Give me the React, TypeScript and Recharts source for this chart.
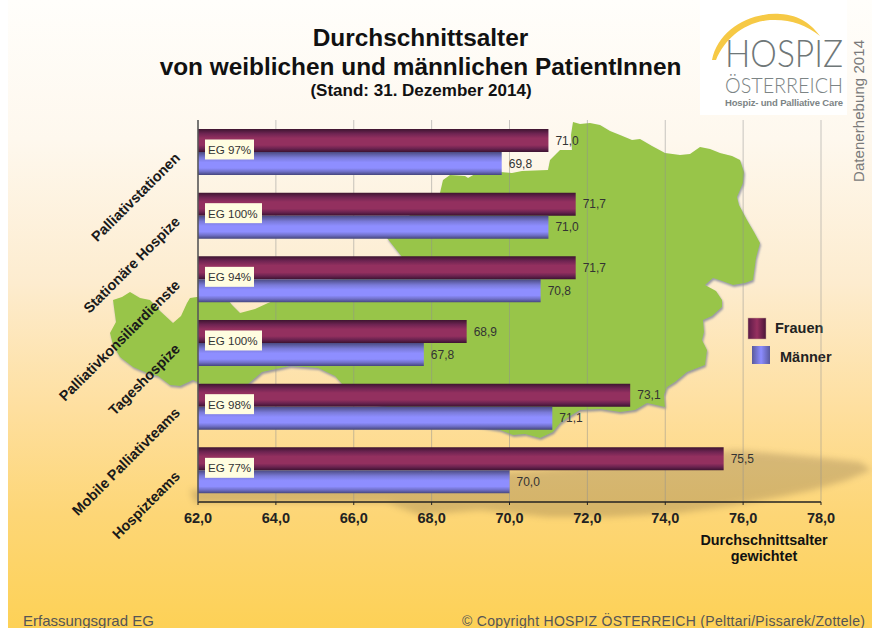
import { Bar, BarChart, CartesianGrid, LabelList, XAxis, YAxis } from 'recharts'

const categories = [
  'Palliativstationen',
  'Stationäre Hospize',
  'Palliativkonsiliardienste',
  'Tageshospize',
  'Mobile Palliativteams',
  'Hospizteams',
]
const frauen = [71.0, 71.7, 71.7, 68.9, 73.1, 75.5]
const maenner = [69.8, 71.0, 70.8, 67.8, 71.1, 70.0]
const erfassung = ['EG 97%', 'EG 100%', 'EG 94%', 'EG 100%', 'EG 98%', 'EG 77%']
const xTicks = [62, 64, 66, 68, 70, 72, 74, 76, 78]
const bandEdges = [0, 1, 2, 3, 4, 5, 6]

const chartData = categories.map((name, i) => ({
  name,
  frauen: frauen[i],
  maenner: maenner[i],
  eg: erfassung[i],
}))

const FONT = '"Liberation Sans", Arial, sans-serif'
const MAP_PATH =
  'M573,122 L580,124 L590,123 L600,125 L610,131 L620,135 L632,140 L640,139 L652,146 L665,153 L680,155 L690,154 L700,147 L710,149 L720,153 L732,156 L740,160 L744,172 L743,183 L737,197 L739,205 L747,220 L754,232 L760,243 L756,258 L753,280 L745,283 L733,285 L722,281 L713,278 L705,285 L716,291 L722,300 L722,307 L712,316 L703,320 L704,332 L702,340 L707,350 L705,365 L687,372 L675,382 L667,387 L664,395 L665,407 L647,403 L635,410 L620,412 L600,409 L580,410 L570,416 L560,423 L553,432 L540,438 L525,434 L513,435 L500,430 L440,420 L380,405 L350,392 L343,385 L335,376 L318,368 L290,366 L262,372 L247,385 L225,388 L205,386 L193,380 L180,386 L170,385 L158,376 L147,373 L133,367 L120,357 L113,345 L110,333 L116,322 L113,300 L122,297 L130,292 L140,298 L150,300 L160,311 L173,323 L181,316 L187,303 L190,298 L197,297 L228,300 L232,305 L240,313 L255,309 L268,303 L300,290 L402,257 L387,238 L410,215 L440,193 L443,180 L450,175 L465,176 L468,178 L475,174 L500,172 L512,173 L522,171 L548,170 L550,160 L560,150 L572,150 L571,135 Z'

function pct(value: number) {
  return value.toFixed(1).replace('.', ',')
}

function CategoryTick({ x, y, payload }: { x?: number; y?: number; payload?: { value: string } }) {
  return (
    <text
      x={0}
      y={0}
      transform={`translate(${(x ?? 0) - 9},${(y ?? 0) + 7}) rotate(-45)`}
      textAnchor="end"
      fontFamily={FONT}
      fontSize={14.4}
      fontWeight="bold"
      fill="#1a1a1a"
    >
      {payload?.value}
    </text>
  )
}

function EdgeTick({ x, y }: { x?: number; y?: number }) {
  return <line x1={x} x2={Number(x) - 5} y1={y} y2={y} stroke="#222" strokeWidth={1.5} />
}

function EgLabel({ x, y, index }: { x?: number; y?: number; index?: number }) {
  const label = erfassung[index ?? 0]
  const width = label.length > 6 ? 57 : 49
  return (
    <g>
      <rect x={Number(x) + 7} y={Number(y) - 12.5} width={width} height={20} fill="#fffde0" />
      <text x={Number(x) + 10} y={Number(y) + 2} fontFamily={FONT} fontSize={11.6} fill="#333">
        {label}
      </text>
    </g>
  )
}

function Backdrop() {
  return (
    <svg width={872} height={628} style={{ position: 'absolute', left: 0, top: 0 }}>
      <defs>
        <filter id="mapShadow" x="-5%" y="-5%" width="110%" height="110%">
          <feDropShadow dx={1} dy={2} stdDeviation={0.8} floodColor="#7d8298" floodOpacity={0.8} />
        </filter>
        <filter id="groundBlur" x="-5%" y="-20%" width="110%" height="140%">
          <feGaussianBlur stdDeviation={3} />
        </filter>
        <linearGradient id="swatchF" x1="0" y1="0" x2="1" y2="0">
          <stop offset="0%" stopColor="#5a1a48" />
          <stop offset="50%" stopColor="#96305f" />
          <stop offset="100%" stopColor="#4a1538" />
        </linearGradient>
        <linearGradient id="swatchM" x1="0" y1="0" x2="1" y2="0">
          <stop offset="0%" stopColor="#5a5a9c" />
          <stop offset="50%" stopColor="#8c8cff" />
          <stop offset="100%" stopColor="#5a5a9c" />
        </linearGradient>
      </defs>

      <path
        d="M190,490 L400,480 L600,465 L735,450 L813,457 L860,462 L871,470 L847,480 L813,490 L780,497 L730,506 L680,513 L610,517 L547,517 L480,510 L420,515 L387,503 L300,503 L195,503 Z"
        fill="#6e5a3c"
        opacity={0.27}
        filter="url(#groundBlur)"
      />
      <path d={MAP_PATH} fill="#98c548" filter="url(#mapShadow)" />

      <rect x={700} y={0} width={147} height={115} fill="#fff" />
      <path
        d="M712,60 C718,30 750,12 780,14 C800,15 812,25 820,36 C805,24 790,19 770,20 C745,22 725,38 716,60 Z"
        fill="#f6c945"
      />
      <text
        x={725}
        y={67}
        fontFamily="Lato, sans-serif"
        fontWeight={300}
        fontSize={37}
        fill="#6f7778"
        textLength={118}
        lengthAdjust="spacingAndGlyphs"
      >
        HOSPIZ
      </text>
      <text
        x={725}
        y={93}
        fontFamily="Lato, sans-serif"
        fontWeight={300}
        fontSize={22}
        fill="#7c8485"
        textLength={118}
        lengthAdjust="spacingAndGlyphs"
      >
        ÖSTERREICH
      </text>
      <text x={725} y={106} fontFamily={FONT} fontWeight="bold" fontSize={9.5} fill="#7c8485" textLength={118}>
        Hospiz- und Palliative Care
      </text>
      <text
        transform="translate(864,182) rotate(-90)"
        fontFamily={FONT}
        fontSize={15}
        fill="#7a7a7a"
        textLength={142}
      >
        Datenerhebung 2014
      </text>

      <g fontFamily={FONT} fontWeight="bold" fill="#111" textAnchor="middle">
        <text x={420.5} y={46} fontSize={24.4}>
          Durchschnittsalter
        </text>
        <text x={420.5} y={75} fontSize={24.4}>
          von weiblichen und männlichen PatientInnen
        </text>
        <text x={421} y={96} fontSize={17}>
          (Stand: 31. Dezember 2014)
        </text>
        <text x={764} y={545} fontSize={14.4}>
          Durchschnittsalter
        </text>
        <text x={764} y={561} fontSize={14.4}>
          gewichtet
        </text>
      </g>

      <rect x={748} y={318} width={18} height={21} fill="url(#swatchF)" stroke="#c9a88c" strokeWidth={0.5} />
      <rect x={752} y={346} width={18} height={18} fill="url(#swatchM)" />
      <g fontFamily={FONT} fontWeight="bold" fontSize={14.5} fill="#222">
        <text x={775} y={333}>
          Frauen
        </text>
        <text x={780} y={362}>
          Männer
        </text>
      </g>

      <g fontFamily={FONT} fontSize={15} fill="#555">
        <text x={23} y={626}>
          Erfassungsgrad EG
        </text>
        <text x={462} y={626} fontSize={14} textLength={403}>
          © Copyright HOSPIZ ÖSTERREICH (Pelttari/Pissarek/Zottele)
        </text>
      </g>
    </svg>
  )
}

export default function App() {
  return (
    <div
      style={{
        position: 'absolute',
        left: 0,
        top: 0,
        width: 872,
        height: 628,
        overflow: 'hidden',
        background: '#fff',
      }}
    >
      <div
        style={{
          position: 'absolute',
          left: 8,
          top: 0,
          right: 0,
          bottom: 0,
          background:
            'linear-gradient(180deg, #fffefb 0%, #fef8ee 22%, #fdeccf 45%, #fedf9f 65%, #fdd676 82%, #fdd156 100%)',
        }}
      />
      <Backdrop />
      <div style={{ position: 'absolute', left: 0, top: 0 }}>
        <BarChart
          width={872}
          height={628}
          data={chartData}
          layout="vertical"
          margin={{ top: 120, right: 51, bottom: 0, left: 0 }}
          barCategoryGap={9}
          barGap={0}
        >
          <defs>
            <linearGradient id="barFrauen" x1="0" y1="0" x2="0" y2="1">
              <stop offset="0%" stopColor="#3e1530" />
              <stop offset="20%" stopColor="#6e2452" />
              <stop offset="40%" stopColor="#93305f" />
              <stop offset="70%" stopColor="#93305f" />
              <stop offset="85%" stopColor="#6a2350" />
              <stop offset="100%" stopColor="#3c1230" />
            </linearGradient>
            <linearGradient id="barMaenner" x1="0" y1="0" x2="0" y2="1">
              <stop offset="0%" stopColor="#4a4a80" />
              <stop offset="25%" stopColor="#7a7ad8" />
              <stop offset="45%" stopColor="#8e8eff" />
              <stop offset="70%" stopColor="#8e8eff" />
              <stop offset="85%" stopColor="#7070c8" />
              <stop offset="100%" stopColor="#45457c" />
            </linearGradient>
          </defs>
          <CartesianGrid horizontal={false} stroke="#8f8f8f" strokeOpacity={0.5} />
          <XAxis
            type="number"
            domain={[62, 78]}
            ticks={xTicks}
            interval={0}
            height={126}
            tickFormatter={pct}
            tickSize={3}
            tickMargin={8}
            axisLine={{ stroke: '#222', strokeWidth: 1.5 }}
            tickLine={{ stroke: '#222' }}
            tick={{ fontFamily: FONT, fontSize: 14.5, fontWeight: 'bold', fill: '#222' }}
          />
          <YAxis
            yAxisId="edges"
            type="number"
            orientation="left"
            domain={[0, 6]}
            ticks={bandEdges}
            interval={0}
            width={0}
            tick={<EdgeTick />}
            axisLine={false}
            tickLine={false}
          />
          <YAxis
            yAxisId="labels"
            type="category"
            dataKey="name"
            width={198}
            interval={0}
            tick={<CategoryTick />}
            tickLine={false}
            axisLine={{ stroke: '#555', strokeWidth: 1.5 }}
          />
          <Bar
            yAxisId="labels"
            dataKey="frauen"
            name="Frauen"
            fill="url(#barFrauen)"
            isAnimationActive={false}
          >
            <LabelList
              dataKey="frauen"
              position="right"
              offset={7}
              formatter={(v: number) => pct(v)}
              style={{ fontFamily: FONT, fontSize: 12, fill: '#333' }}
            />
          </Bar>
          <Bar
            yAxisId="labels"
            dataKey="maenner"
            name="Männer"
            fill="url(#barMaenner)"
            isAnimationActive={false}
          >
            <LabelList
              dataKey="maenner"
              position="right"
              offset={7}
              formatter={(v: number) => pct(v)}
              style={{ fontFamily: FONT, fontSize: 12, fill: '#333' }}
            />
            <LabelList dataKey="eg" content={<EgLabel />} />
          </Bar>
        </BarChart>
      </div>
    </div>
  )
}
